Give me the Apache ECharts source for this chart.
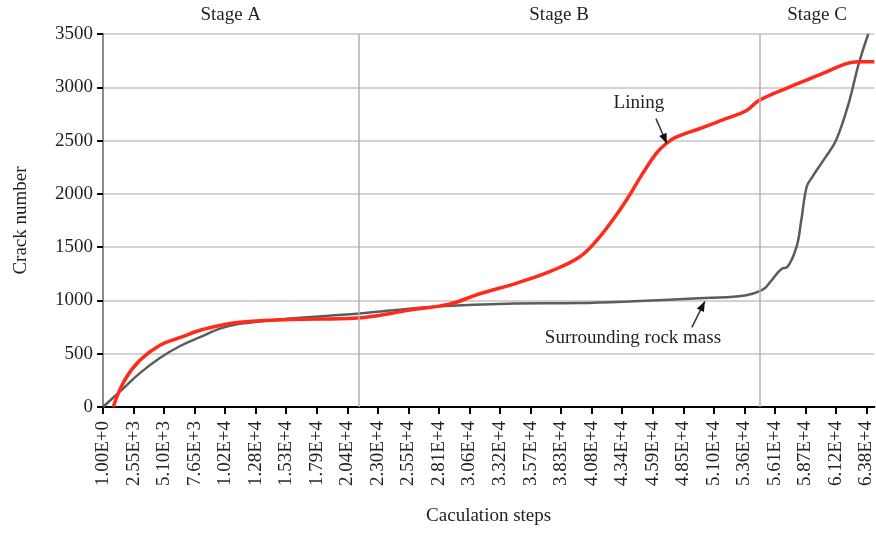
<!DOCTYPE html>
<html><head><meta charset="utf-8">
<script src="https://cdn.jsdelivr.net/npm/echarts@6/dist/echarts.min.js"></script>
<style>html,body{margin:0;padding:0;background:#fff}#c{width:876px;height:535px}</style>
</head><body><div id="c"></div>
<script>
const tickLabels = ['1.00E+0','2.55E+3','5.10E+3','7.65E+3','1.02E+4','1.28E+4','1.53E+4','1.79E+4','2.04E+4','2.30E+4','2.55E+4','2.81E+4','3.06E+4','3.32E+4','3.57E+4','3.83E+4','4.08E+4','4.34E+4','4.59E+4','4.85E+4','5.10E+4','5.36E+4','5.61E+4','5.87E+4','6.12E+4','6.38E+4'];
const tickStep = 2550;
const stageNames = ['Stage A','Stage B','Stage C'];
const stageBounds = [0, 21330, 54840, 64400];

const liningSteps  = [850,1800,3100,4750,6400,8100,9750,11400,15600,21200,23900,25300,28900,31400,34750,37500,39750,41200,42500,43700,45000,46200,47000,47800,50000,52000,53700,54750,57250,60000,62000,63100,64400];
const liningCracks = [0,250,440,580,650,720,765,795,820,835,875,905,965,1060,1170,1280,1405,1560,1745,1940,2180,2380,2470,2530,2620,2705,2780,2875,3000,3125,3220,3240,3240];

const rockSteps  = [0,1800,3100,4750,6400,8100,9750,11400,15600,21200,23900,28100,33700,39750,43900,49750,53100,54300,55200,55800,56700,57100,57900,58300,58750,59200,60300,61200,62250,63100,63900];
const rockCracks = [0,185,320,460,570,655,735,780,830,875,905,945,970,975,990,1020,1040,1065,1110,1185,1300,1310,1500,1750,2065,2155,2340,2500,2845,3220,3500];

const annoNames = ['Lining','Surrounding rock mass'];
const annoText = [[44750,2850],[44250,650]];
const annoFrom = [[46170,2706],[49170,747]];
const annoTo   = [[47080,2472],[50250,991]];

const FONT = '"Liberation Serif","DejaVu Serif",serif';
const TXT = '#231f20';
const zip = (a,b) => a.map((v,i)=>[v,b[i]]);

const chart = echarts.init(document.getElementById('c'));
chart.setOption({
  animation:false,
  grid:{left:103,right:0,top:34,bottom:128},
  xAxis:[{
    type:'value', min:0, max:64400, interval:tickStep,
    name:'Caculation steps', nameLocation:'middle', nameGap:100,
    nameTextStyle:{fontFamily:FONT,fontSize:19,color:TXT},
    axisLine:{show:true,onZero:false,lineStyle:{color:'#000',width:2}},
    axisTick:{show:true,length:7,inside:false,lineStyle:{color:'#000',width:2}},
    axisLabel:{rotate:90,margin:14,fontFamily:FONT,fontSize:19,color:TXT,showMaxLabel:false,
      formatter:v=>{const i=Math.round(v/tickStep); return (Math.abs(v-i*tickStep)<1 && tickLabels[i]) ? tickLabels[i] : '';}},
    splitLine:{show:false}
  },{
    type:'value', position:'top', min:0, max:64400,
    axisLine:{show:true,lineStyle:{color:'#000',width:2}},
    axisTick:{show:false}, axisLabel:{show:false}, splitLine:{show:false}
  }],
  yAxis:{
    type:'value', min:0, max:3500, interval:500,
    name:'Crack number', nameLocation:'middle', nameGap:72,
    nameTextStyle:{fontFamily:FONT,fontSize:19,color:TXT},
    axisLine:{show:true,lineStyle:{color:'#8a8a8a',width:2}},
    axisTick:{show:true,length:6,lineStyle:{color:'#000',width:2}},
    axisLabel:{margin:10,fontFamily:FONT,fontSize:19,color:TXT,formatter:v=>String(v)},
    splitLine:{show:true,lineStyle:{color:'#c4c4c4',width:1.5}}
  },
  series:[
    {
      type:'line', name:'Surrounding rock mass', data:zip(rockSteps,rockCracks),
      smooth:0.4, showSymbol:false, z:3,
      lineStyle:{color:'#5c5c5c',width:2.5},
      markLine:{silent:true, symbol:'none', label:{show:false},
        lineStyle:{color:'#b0b0b0',width:1.5,type:'solid'},
        data:[{xAxis:stageBounds[1]},{xAxis:stageBounds[2]}]},
      markArea:{silent:true, itemStyle:{color:'rgba(0,0,0,0)'},
        label:{show:true,position:'top',distance:9,fontFamily:FONT,fontSize:19,color:TXT},
        data:stageNames.map((n,i)=>[{name:n,xAxis:stageBounds[i],yAxis:0},{xAxis:stageBounds[i+1],yAxis:3500}])}
    },
    {
      type:'line', name:'Lining', data:zip(liningSteps,liningCracks),
      smooth:0.4, showSymbol:false, z:4,
      lineStyle:{color:'#ff2a1a',width:3.5},
      markPoint:{silent:true, symbol:'circle', symbolSize:0,
        label:{show:true,fontFamily:FONT,fontSize:19,color:TXT,formatter:'{b}'},
        data:annoNames.map((n,i)=>({name:n,coord:annoText[i]}))},
      markLine:{silent:true, symbol:'none',
        label:{show:false}, lineStyle:{color:'#333',width:1.5,type:'solid'},
        data:annoFrom.map((f,i)=>[{coord:f},{coord:annoTo[i]}])}
    }
  ]
});

// arrowheads at the annotation line ends, placed via the chart's own scales
const heads = annoTo.map((t,i)=>{
  const p1 = chart.convertToPixel({gridIndex:0}, annoFrom[i]);
  const p2 = chart.convertToPixel({gridIndex:0}, t);
  const dx = p2[0]-p1[0], dy = p2[1]-p1[1], L = Math.hypot(dx,dy);
  const ux = dx/L, uy = dy/L, len = 10, w = 4;
  const bx = p2[0]-ux*len, by = p2[1]-uy*len;
  return {type:'polygon', z:100, silent:true,
    shape:{points:[[p2[0],p2[1]],[bx-uy*w,by+ux*w],[bx+uy*w,by-ux*w]]},
    style:{fill:'#111'}};
});
chart.setOption({graphic:heads});
</script></body></html>
